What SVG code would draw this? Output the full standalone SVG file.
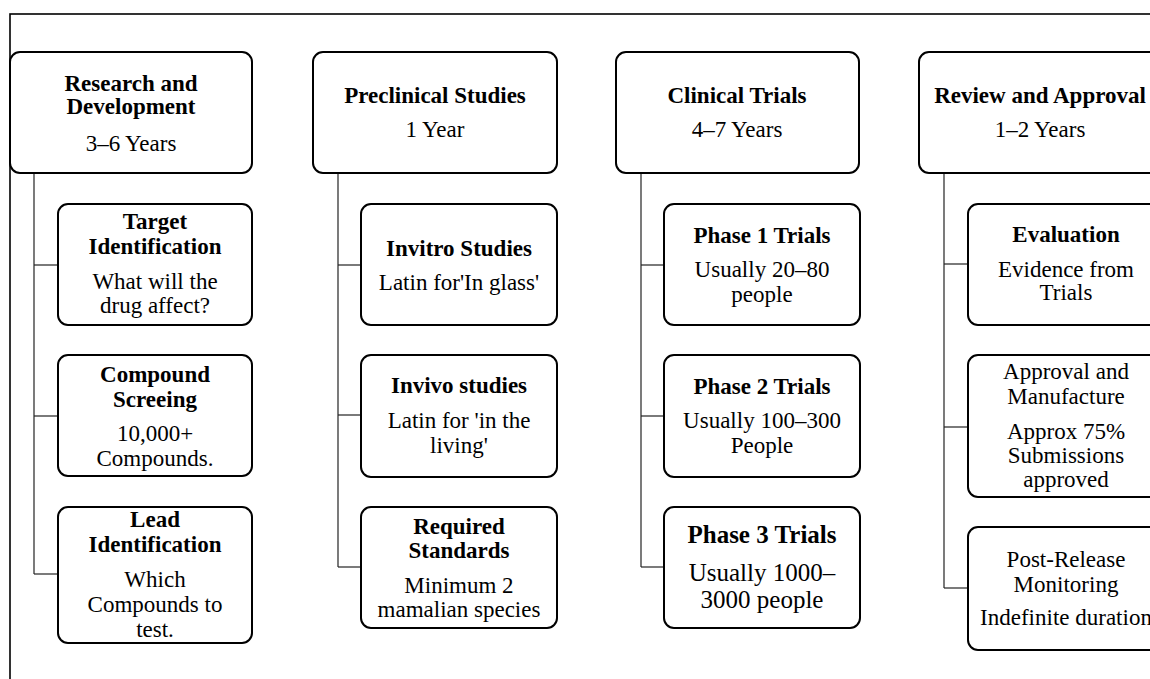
<svg xmlns="http://www.w3.org/2000/svg" width="1150" height="679" viewBox="0 0 1150 679">
<style>
.box{fill:#fff;stroke:#000;stroke-width:2}
.frame{fill:none;stroke:#000;stroke-width:1.6}
.conn line{stroke:#222;stroke-width:1.2}
text{font-family:"Liberation Serif","Times New Roman",serif;font-size:23px;fill:#000;text-anchor:middle}
.b{font-weight:bold}
.big{font-size:25px}
</style>
<rect class="frame" x="10" y="14" width="1200" height="700"/>
<g id="connectors" class="conn">
<line x1="34" y1="173" x2="34" y2="574"/>
<line x1="34" y1="265" x2="58" y2="265"/>
<line x1="34" y1="416" x2="58" y2="416"/>
<line x1="34" y1="574" x2="58" y2="574"/>
<line x1="338" y1="173" x2="338" y2="567"/>
<line x1="338" y1="265" x2="361" y2="265"/>
<line x1="338" y1="415" x2="361" y2="415"/>
<line x1="338" y1="567" x2="361" y2="567"/>
<line x1="641" y1="173" x2="641" y2="567"/>
<line x1="641" y1="265" x2="664" y2="265"/>
<line x1="641" y1="416" x2="664" y2="416"/>
<line x1="641" y1="567" x2="664" y2="567"/>
<line x1="944" y1="173" x2="944" y2="588"/>
<line x1="944" y1="264" x2="968" y2="264"/>
<line x1="944" y1="427" x2="968" y2="427"/>
<line x1="944" y1="588" x2="968" y2="588"/>
</g>
<g id="rd">
<rect class="box" x="10" y="52" width="242" height="121" rx="10"/>
<text class="b" x="131" y="91">Research and</text>
<text class="b" x="131" y="114">Development</text>
<text x="131" y="151">3–6 Years</text>
</g>
<g id="target">
<rect class="box" x="58" y="204" width="194" height="121" rx="10"/>
<text class="b" x="155" y="229">Target</text>
<text class="b" x="155" y="254">Identification</text>
<text x="155" y="289">What will the</text>
<text x="155" y="313">drug affect?</text>
</g>
<g id="compound">
<rect class="box" x="58" y="355" width="194" height="121" rx="10"/>
<text class="b" x="155" y="382">Compound</text>
<text class="b" x="155" y="407">Screeing</text>
<text x="155" y="441">10,000+</text>
<text x="155" y="466">Compounds.</text>
</g>
<g id="lead">
<rect class="box" x="58" y="507" width="194" height="136" rx="10"/>
<text class="b" x="155" y="527">Lead</text>
<text class="b" x="155" y="552">Identification</text>
<text x="155" y="587">Which</text>
<text x="155" y="612">Compounds to</text>
<text x="155" y="637">test.</text>
</g>
<g id="preclinical">
<rect class="box" x="313" y="52" width="244" height="121" rx="10"/>
<text class="b" x="435" y="103">Preclinical Studies</text>
<text x="435" y="137">1 Year</text>
</g>
<g id="invitro">
<rect class="box" x="361" y="204" width="196" height="121" rx="10"/>
<text class="b" x="459" y="256">Invitro Studies</text>
<text x="459" y="290">Latin for'In glass'</text>
</g>
<g id="invivo">
<rect class="box" x="361" y="355" width="196" height="122" rx="10"/>
<text class="b" x="459" y="393">Invivo studies</text>
<text x="459" y="428">Latin for 'in the</text>
<text x="459" y="453">living'</text>
</g>
<g id="required">
<rect class="box" x="361" y="507" width="196" height="121" rx="10"/>
<text class="b" x="459" y="534">Required</text>
<text class="b" x="459" y="558">Standards</text>
<text x="459" y="593">Minimum 2</text>
<text x="459" y="617">mamalian species</text>
</g>
<g id="clinical">
<rect class="box" x="616" y="52" width="243" height="121" rx="10"/>
<text class="b" x="737" y="103">Clinical Trials</text>
<text x="737" y="137">4–7 Years</text>
</g>
<g id="phase1">
<rect class="box" x="664" y="204" width="196" height="121" rx="10"/>
<text class="b" x="762" y="243">Phase 1 Trials</text>
<text x="762" y="277">Usually 20–80</text>
<text x="762" y="302">people</text>
</g>
<g id="phase2">
<rect class="box" x="664" y="355" width="196" height="122" rx="10"/>
<text class="b" x="762" y="394">Phase 2 Trials</text>
<text x="762" y="428">Usually 100–300</text>
<text x="762" y="453">People</text>
</g>
<g id="phase3">
<rect class="box" x="664" y="507" width="196" height="121" rx="10"/>
<text class="b big" x="762" y="543">Phase 3 Trials</text>
<text class="big" x="762" y="581">Usually 1000–</text>
<text class="big" x="762" y="608">3000 people</text>
</g>
<g id="review">
<rect class="box" x="919" y="52" width="243" height="121" rx="10"/>
<text class="b" x="1040" y="103">Review and Approval</text>
<text x="1040" y="137">1–2 Years</text>
</g>
<g id="evaluation">
<rect class="box" x="968" y="204" width="196" height="121" rx="10"/>
<text class="b" x="1066" y="242">Evaluation</text>
<text x="1066" y="277">Evidence from</text>
<text x="1066" y="300">Trials</text>
</g>
<g id="approval">
<rect class="box" x="968" y="355" width="196" height="142" rx="10"/>
<text x="1066" y="379">Approval and</text>
<text x="1066" y="404">Manufacture</text>
<text x="1066" y="439">Approx 75%</text>
<text x="1066" y="463">Submissions</text>
<text x="1066" y="487">approved</text>
</g>
<g id="postrelease">
<rect class="box" x="968" y="527" width="196" height="123" rx="10"/>
<text x="1066" y="567">Post-Release</text>
<text x="1066" y="592">Monitoring</text>
<text x="1066" y="625">Indefinite duration</text>
</g>
</svg>
